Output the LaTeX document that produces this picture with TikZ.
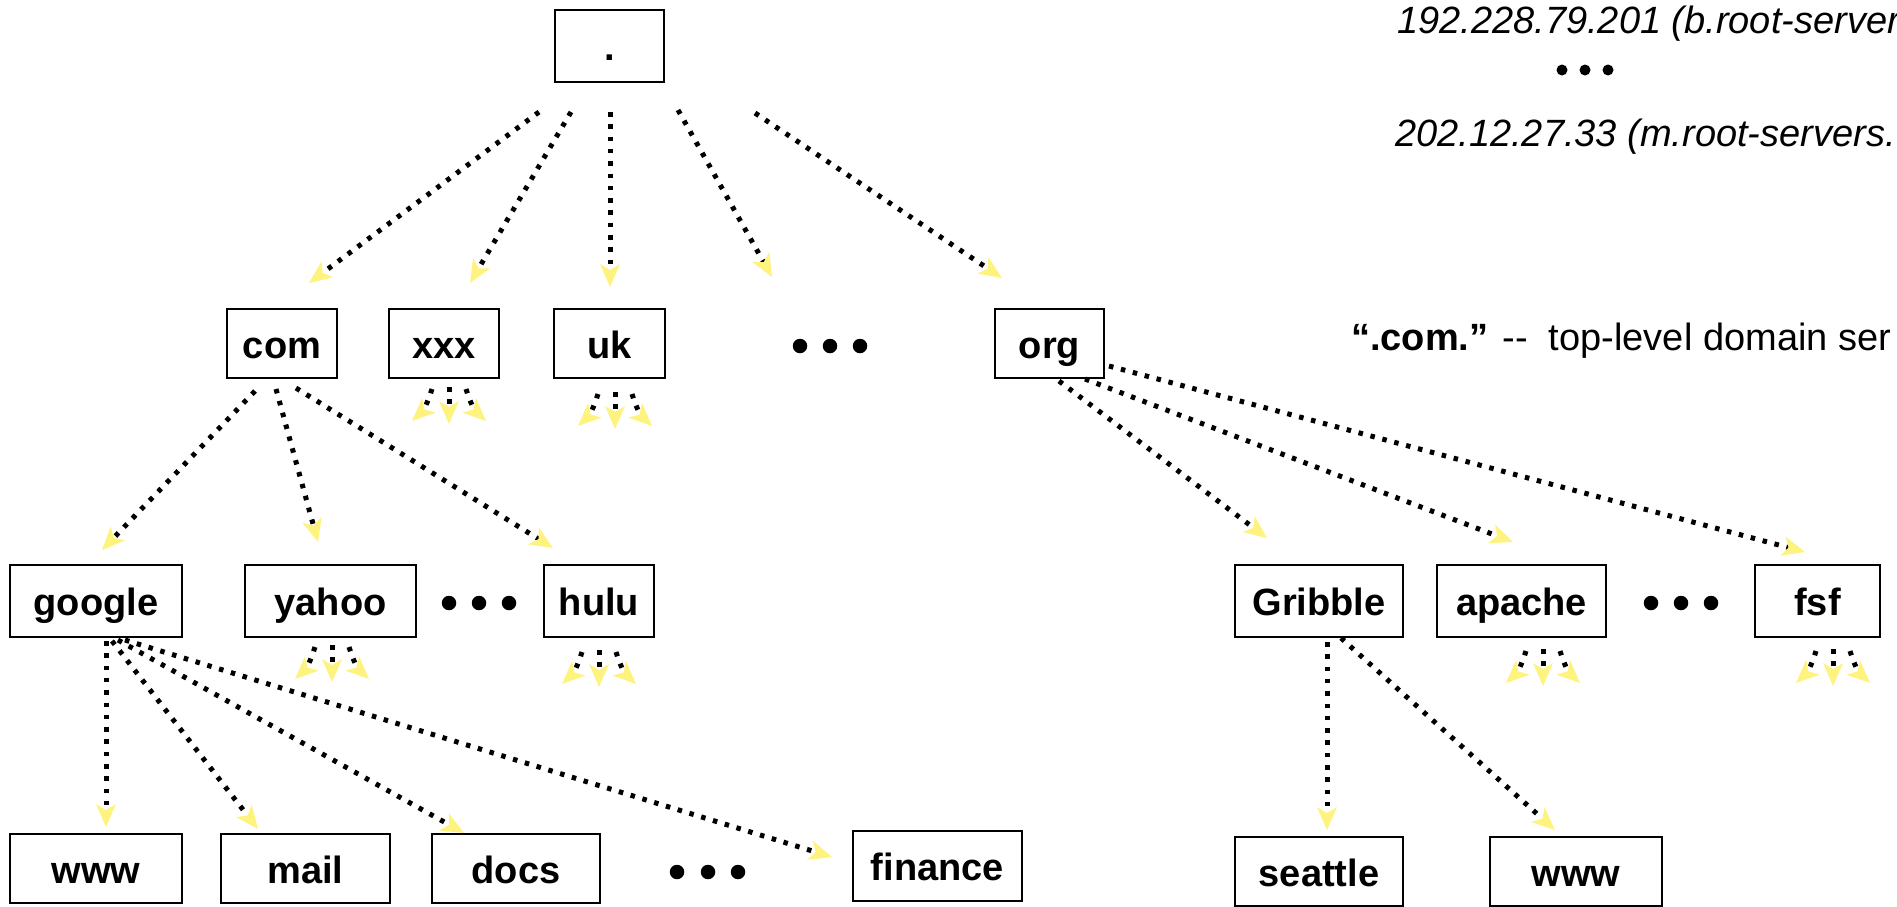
\documentclass[tikz,border=0pt]{standalone}
\usepackage{fontspec}
\setmainfont{Liberation Sans}
\usetikzlibrary{arrows.meta}
\definecolor{tipyellow}{RGB}{255,243,128}
\tikzset{
  box/.style={draw=black, line width=1.8pt, fill=white, inner sep=0pt,
    font=\fontsize{38}{44}\selectfont\bfseries, text height=38pt, text depth=9pt},
  link/.style={line width=5pt, dash pattern=on 4.5pt off 7.8pt,
    -{Stealth[length=23pt,width=20pt,inset=6pt,color=tipyellow,line width=0pt]}},
  bigdot/.style={circle, fill=black, inner sep=0pt, minimum size=14.5pt},
  smalldot/.style={circle, fill=black, inner sep=0pt, minimum size=11pt},
  note/.style={anchor=base west, inner sep=0pt, font=\fontsize{38}{44}\selectfont}
}
\newcommand\fanout[3]{%
  \coordinate (#1-m0) at (#2,#3);
  \coordinate (#1-m1) at (#2,#3+37);
  \coordinate (#1-l0) at (#2-17,#3+2);
  \coordinate (#1-l1) at (#2-37,#3+34);
  \coordinate (#1-r0) at (#2+17,#3+2);
  \coordinate (#1-r1) at (#2+37,#3+34);
  \draw[link] (#1-m0) -- (#1-m1);
  \draw[link] (#1-l0) to[bend left=15] (#1-l1);
  \draw[link] (#1-r0) to[bend right=15] (#1-r1);
}
\begin{document}
\begin{tikzpicture}[x=1pt,y=-1pt]
\useasboundingbox (0,0) rectangle (1897,906);
\clip (0,0) rectangle (1897,906);

% boxes
\node[box, minimum width=109pt, minimum height=72pt] (root) at (609.5,46) {.};
\node[box, minimum width=110pt, minimum height=69pt] (com) at (282,343.5) {com};
\node[box, minimum width=110pt, minimum height=69pt] (xxx) at (444,343.5) {xxx};
\node[box, minimum width=111pt, minimum height=69pt] (uk) at (609.5,343.5) {uk};
\node[box, minimum width=109pt, minimum height=69pt] (org) at (1049.5,343.5) {org};

\node[box, minimum width=172pt, minimum height=72pt] (google) at (96,601) {google};
\node[box, minimum width=171pt, minimum height=72pt] (yahoo) at (330.5,601) {yahoo};
\node[box, minimum width=110pt, minimum height=72pt] (hulu) at (599,601) {hulu};
\node[box, minimum width=168pt, minimum height=72pt] (gribble) at (1319,601) {Gribble};
\node[box, minimum width=169pt, minimum height=72pt] (apache) at (1521.5,601) {apache};
\node[box, minimum width=125pt, minimum height=72pt] (fsf) at (1817.5,601) {fsf};

\node[box, minimum width=172pt, minimum height=69pt] (www) at (96,868.5) {www};
\node[box, minimum width=169pt, minimum height=69pt] (mail) at (305.5,868.5) {mail};
\node[box, minimum width=168pt, minimum height=69pt] (docs) at (516,868.5) {docs};
\node[box, minimum width=169pt, minimum height=70pt] (finance) at (937.5,866) {finance};
\node[box, minimum width=168pt, minimum height=69pt] (seattle) at (1319,871.5) {seattle};
\node[box, minimum width=172pt, minimum height=69pt] (www2) at (1576,871.5) {www};

% ellipsis dots
\foreach \x in {800,830,860} \node[bigdot] at (\x,346) {};
\foreach \x in {449,479,509} \node[bigdot] at (\x,603) {};
\foreach \x in {1651,1681,1711} \node[bigdot] at (\x,603) {};
\foreach \x in {677,708,738} \node[bigdot] at (\x,872) {};
\foreach \x in {1562,1585,1608} \node[smalldot] at (\x,70) {};

% notes
\node[note, font=\fontsize{38}{44}\selectfont\itshape] (rs1) at (1397,33) {192.228.79.201 (b.root-server};
\node[note, font=\fontsize{38}{44}\selectfont\itshape] (rs2) at (1395,146) {202.12.27.33 (m.root-servers.};
\node[note] (tld) at (1351,350) {\textbf{“.com.”} -{}-~~top-level domain ser};

% root links
\coordinate (r1s) at (539,112); \coordinate (r1e) at (309,283);
\coordinate (r2s) at (571,112); \coordinate (r2e) at (470,283);
\coordinate (r3s) at (610,112); \coordinate (r3e) at (610,287);
\coordinate (r4s) at (678,110); \coordinate (r4e) at (772,277);
\coordinate (r5s) at (755,113); \coordinate (r5e) at (1002,278);
\draw[link] (r1s) -- (r1e);
\draw[link] (r2s) -- (r2e);
\draw[link] (r3s) -- (r3e);
\draw[link] (r4s) -- (r4e);
\draw[link] (r5s) -- (r5e);

% com links
\coordinate (c1s) at (255,391); \coordinate (c1e) at (102,550);
\coordinate (c2s) at (276,389); \coordinate (c2e) at (318,542);
\coordinate (c3s) at (296,388); \coordinate (c3e) at (553,548);
\draw[link] (c1s) -- (c1e);
\draw[link] (c2s) -- (c2e);
\draw[link] (c3s) -- (c3e);

% org links
\coordinate (o1s) at (1059,381); \coordinate (o1e) at (1267,538);
\coordinate (o2s) at (1085,379); \coordinate (o2e) at (1513,542);
\coordinate (o3s) at (1109,366); \coordinate (o3e) at (1805,552);
\draw[link] (o1s) -- (o1e);
\draw[link] (o2s) -- (o2e);
\draw[link] (o3s) -- (o3e);

% google links
\coordinate (g1s) at (106,641); \coordinate (g1e) at (106,827);
\coordinate (g2s) at (112,641); \coordinate (g2e) at (258,829);
\coordinate (g3s) at (118,640); \coordinate (g3e) at (464,833);
\coordinate (g4s) at (125,640); \coordinate (g4e) at (832,857);
\draw[link] (g1s) -- (g1e);
\draw[link] (g2s) -- (g2e);
\draw[link] (g3s) -- (g3e);
\draw[link] (g4s) -- (g4e);

% gribble links
\coordinate (b1s) at (1327,642); \coordinate (b1e) at (1327,830);
\coordinate (b2s) at (1341,638); \coordinate (b2e) at (1555,830);
\draw[link] (b1s) -- (b1e);
\draw[link] (b2s) -- (b2e);

% small fan-outs
\fanout{fxxx}{449}{387}
\fanout{fuk}{615}{392}
\fanout{fyahoo}{332}{645}
\fanout{fhulu}{599}{650}
\fanout{fapache}{1543}{649}
\fanout{ffsf}{1833}{649}
\end{tikzpicture}
\end{document}
